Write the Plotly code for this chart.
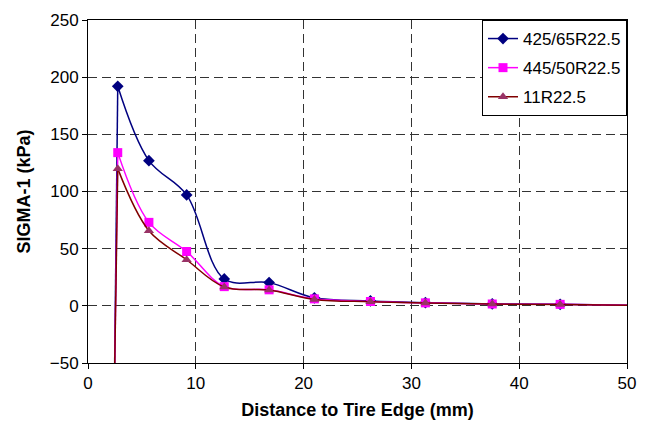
import plotly.graph_objects as go

# Distance from tire edge (mm) at each measurement station
dist = [2.45, 2.76, 5.65, 9.15, 12.64, 16.8, 21.0, 26.2, 31.3, 37.5, 43.8, 50.6]

# Vertical stress SIGMA-1 (kPa) per tire
s_425 = [-70, 192, 127, 97, 23.5, 20.3, 7.0, 4.3, 2.8, 1.7, 1.3, 0.5]
s_445 = [-70, 134, 73, 47.5, 16.8, 14.0, 6.1, 3.8, 2.6, 1.6, 1.3, 0.5]
s_11r = [-70, 120, 65.7, 40.3, 16.5, 13.8, 5.6, 3.6, 2.4, 1.5, 1.2, 0.5]

names = ["425/65R22.5", "445/50R22.5", "11R22.5"]
line_colors = ["#000080", "#FF00FF", "#800000"]
marker_colors = ["#000080", "#FF00FF", "#993366"]
symbols = ["diamond", "square", "triangle-up"]

FONT = "Liberation Sans, Arial, sans-serif"

fig = go.Figure()
for i, ys in enumerate([s_425, s_445, s_11r]):
    # steep rise from the tire edge up to the first reading
    fig.add_trace(go.Scatter(
        x=dist[:2], y=ys[:2], mode="lines", showlegend=False, hoverinfo="skip",
        legendgroup=names[i],
        line=dict(color=line_colors[i], width=1.5),
    ))
    # smoothed decay away from the edge
    fig.add_trace(go.Scatter(
        x=dist[1:], y=ys[1:], name=names[i], mode="lines+markers",
        legendgroup=names[i],
        line=dict(color=line_colors[i], width=1.5, shape="spline", smoothing=1.0),
        marker=dict(symbol=symbols[i], size=9, color=marker_colors[i],
                    line=dict(width=0)),
    ))

grid = dict(showgrid=True, gridcolor="#333333", gridwidth=1, griddash="9px,5px",
            showline=True, linecolor="black", linewidth=1, mirror=True,
            ticks="outside", ticklen=5, tickcolor="black", zeroline=False,
            tickfont=dict(family=FONT, size=17, color="black"))

fig.update_xaxes(range=[0, 50], dtick=10, tick0=0,
                 title=dict(text="<b>Distance to Tire Edge (mm)</b>",
                            font=dict(family=FONT, size=18, color="black"), standoff=10),
                 **grid)
fig.update_yaxes(range=[-50, 250], dtick=50, tick0=0,
                 title=dict(text="<b>SIGMA-1 (kPa)</b>",
                            font=dict(family=FONT, size=18, color="black"), standoff=14),
                 **grid)

fig.update_layout(
    width=646, height=434,
    margin=dict(l=88, r=10, t=20, b=71),
    paper_bgcolor="white", plot_bgcolor="white",
    font=dict(family=FONT, size=17, color="black"),
    showlegend=True,
    legend=dict(x=1, y=1, xanchor="right", yanchor="top",
                bgcolor="white", bordercolor="black", borderwidth=1,
                font=dict(family=FONT, size=17, color="black"),
                tracegroupgap=4),
)

fig.write_html("out.html")
